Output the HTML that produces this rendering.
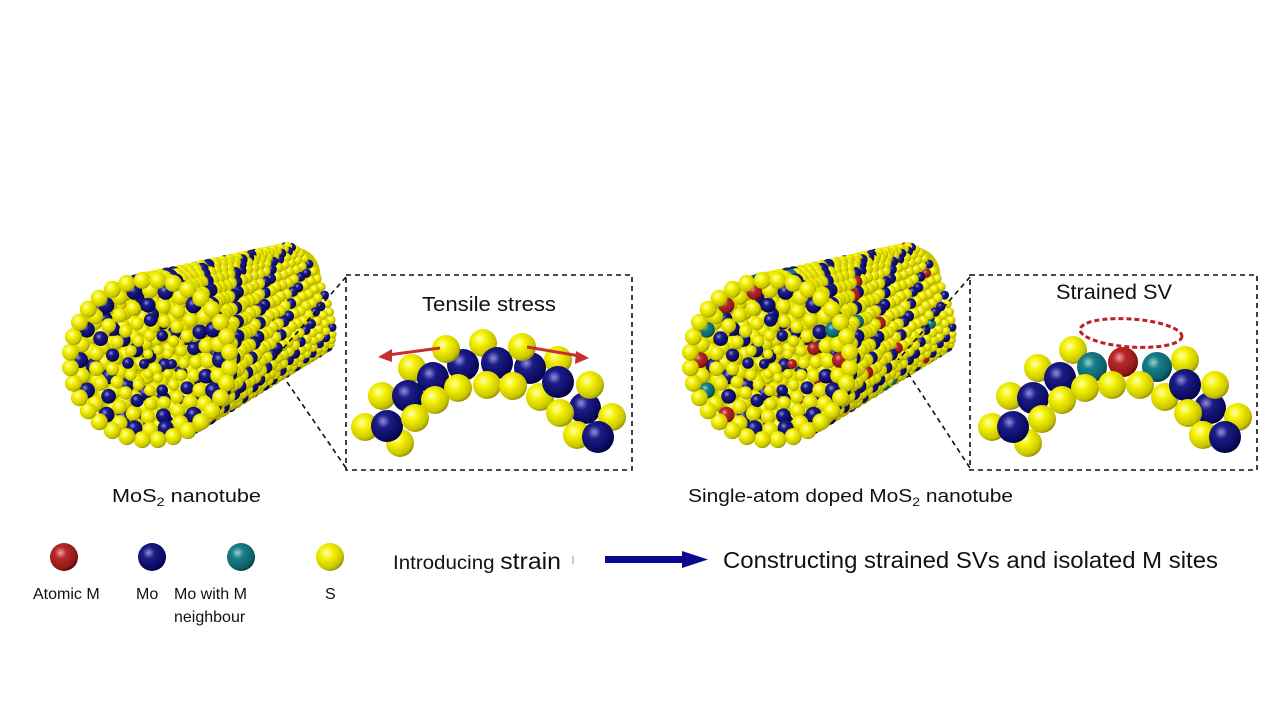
<!DOCTYPE html>
<html><head><meta charset="utf-8"><style>
html,body{margin:0;padding:0;background:#fff;width:1280px;height:720px;overflow:hidden}
svg{display:block}
text{font-family:"Liberation Sans",Arial,sans-serif;fill:#111}
</style></head><body>
<svg id="s" width="1280" height="720" viewBox="0 0 1280 720" xmlns="http://www.w3.org/2000/svg">
<defs>
<radialGradient id="gy" cx="0.38" cy="0.35" r="0.7"><stop offset="0" stop-color="#ffffb0"/><stop offset="0.35" stop-color="#f4f000"/><stop offset="0.8" stop-color="#c8c400"/><stop offset="1" stop-color="#8a8600"/></radialGradient>
<radialGradient id="gb" cx="0.38" cy="0.35" r="0.7"><stop offset="0" stop-color="#9090d8"/><stop offset="0.3" stop-color="#1c1c88"/><stop offset="0.8" stop-color="#0a0a60"/><stop offset="1" stop-color="#000030"/></radialGradient>
<radialGradient id="gr" cx="0.38" cy="0.35" r="0.7"><stop offset="0" stop-color="#f0a0a0"/><stop offset="0.3" stop-color="#b82828"/><stop offset="0.8" stop-color="#901818"/><stop offset="1" stop-color="#500000"/></radialGradient>
<radialGradient id="gt" cx="0.38" cy="0.35" r="0.7"><stop offset="0" stop-color="#a0d0d0"/><stop offset="0.3" stop-color="#18808a"/><stop offset="0.8" stop-color="#0c6068"/><stop offset="1" stop-color="#003038"/></radialGradient>
</defs>
<g id="t1"></g><g id="t2"></g>
<g id="ins"></g>
<g stroke="#111" stroke-width="1.6" stroke-dasharray="5,4" fill="none">
<rect x="346" y="275" width="286" height="195"/>
<line x1="346" y1="277" x2="273" y2="360"/>
<line x1="287" y1="382" x2="346" y2="468"/>
<rect x="970" y="275" width="287" height="195"/>
<line x1="970" y1="277" x2="898" y2="360"/>
<line x1="908" y1="373" x2="970" y2="468"/>
</g>
<text x="422" y="311" font-size="20" textLength="134" lengthAdjust="spacingAndGlyphs">Tensile stress</text>
<text x="1056" y="299" font-size="21" textLength="116" lengthAdjust="spacingAndGlyphs">Strained SV</text>
<ellipse cx="1131" cy="333" rx="51" ry="14" fill="none" stroke="#c02020" stroke-width="3" stroke-dasharray="5,3" transform="rotate(4 1131 333)"/>
<g stroke="#c83030" stroke-width="3" fill="#c83030">
<line x1="440" y1="348" x2="388" y2="355"/><polygon points="378,357 392,349 392,362" stroke="none"/>
<line x1="527" y1="347" x2="580" y2="356"/><polygon points="589,358 576,351 575,364" stroke="none"/>
</g>
<text x="112" y="502" font-size="18" textLength="149" lengthAdjust="spacingAndGlyphs">MoS<tspan font-size="12" dy="4">2</tspan><tspan dy="-4"> nanotube</tspan></text>
<text x="688" y="502" font-size="18" textLength="325" lengthAdjust="spacingAndGlyphs">Single-atom  doped  MoS<tspan font-size="12" dy="4">2</tspan><tspan dy="-4"> nanotube</tspan></text>
<g id="leg"></g>
<text x="33" y="599" font-size="16">Atomic M</text>
<text x="136" y="599" font-size="16">Mo</text>
<text x="174" y="599" font-size="16">Mo with M</text>
<text x="174" y="622" font-size="16">neighbour</text>
<text x="325" y="599" font-size="16">S</text>
<text x="393" y="569" font-size="19" textLength="168" lengthAdjust="spacingAndGlyphs">Introducing <tspan font-size="23">strain</tspan></text>
<line x1="573" y1="556" x2="573" y2="564" stroke="#999" stroke-width="1"/>
<rect x="605" y="556" width="78" height="7" fill="#0a0a90"/>
<polygon points="682,551 708,559.5 682,568" fill="#0a0a90"/>
<text x="723" y="568" font-size="23" textLength="495" lengthAdjust="spacingAndGlyphs">Constructing strained SVs and isolated M sites</text>
</svg>
<script>
var NS="http://www.w3.org/2000/svg";
var G={y:"url(#gy)",b:"url(#gb)",r:"url(#gr)",t:"url(#gt)"};
function at(g,x,y,r,c){var e=document.createElementNS(NS,"circle");e.setAttribute("cx",x.toFixed(1));e.setAttribute("cy",y.toFixed(1));e.setAttribute("r",r.toFixed(1));e.setAttribute("fill",G[c]);g.appendChild(e);}
var sd=7;function rnd(){sd=(sd*16807)%2147483647;return sd/2147483647;}
function tube(id,ox,doped){
 var g=document.getElementById(id);
 var p=document.createElementNS(NS,"path");
 p.setAttribute("d","M"+(ox+80)+",330 C"+(ox+100)+",285 "+(ox+200)+",262 "+(ox+270)+",250 C"+(ox+295)+",242 "+(ox+315)+",248 "+(ox+320)+",270 L"+(ox+325)+",345 C"+(ox+300)+",372 "+(ox+260)+",380 "+(ox+225)+",405 C"+(ox+200)+",435 "+(ox+150)+",440 "+(ox+115)+",425 C"+(ox+80)+",405 "+(ox+72)+",370 "+(ox+80)+",330Z");
 p.setAttribute("fill","#c8c400");g.appendChild(p);
 function col(c){if(!doped||c!="b")return c;var u=rnd();return u<0.1?"r":(u<0.2?"t":"b");}
 var bx=ox+305,by=298,fx=ox+150,fy=360,dx=fx-bx,dy=fy-by,L=Math.hypot(dx,dy),ax=dx/L,ay=dy/L,px=-ay,py=ax;
 var N=23;
 for(var k=0;k<N-1;k++){
  var t=k/(N-1),cx=bx+dx*t,cy=by+dy*t,R=55+25*t,f=0.35+0.5*t*t,ar=4.5+3.5*t;
  var n=Math.round(2*Math.PI*R/(ar*2));
  for(var j=0;j<n;j++){var th=2*Math.PI*j/n;
   var x=cx+R*Math.cos(th)*px+R*f*Math.sin(th)*ax,y=cy+R*Math.cos(th)*py+R*f*Math.sin(th)*ay;
   at(g,x,y,ar,col((j+k)%4==0?"b":"y"));}
 }
 var rs=[14,28,42,56];
 for(var i=0;i<rs.length;i++){var R=rs[i],cx=fx+8-i*2,cy=fy+4-i,ar=5+i*0.8,n=Math.max(5,Math.round(2*Math.PI*R/(ar*2.1)));
  for(var j=0;j<n;j++){var th=2*Math.PI*j/n;at(g,cx+R*Math.cos(th),cy+R*Math.sin(th),ar,col((j+i)%4==0?"b":"y"));}}
 var R=70,n=28;for(var j=0;j<n;j++){var th=2*Math.PI*j/n;at(g,fx+R*Math.cos(th),fy+R*Math.sin(th),8,col(j%2==0?"b":"y"));}
 R=80;n=32;for(var j=0;j<n;j++){var th=2*Math.PI*(j+0.5)/n;at(g,fx+R*Math.cos(th),fy+R*Math.sin(th),8.5,col("y"));}
}
tube("t1",0,false);tube("t2",620,true);
var ins=document.getElementById("ins");
var A=[[483,343,"y",14],[412,368,"y",14],[382,396,"y",14],[365,427,"y",14],[558,360,"y",14],
[463,365,"b",16],[497,363,"b",16],[530,368,"b",16],[408,396,"b",16],[585,408,"b",16],
[446,349,"y",14],[522,347,"y",14],[433,378,"b",16],[458,388,"y",14],[487,385,"y",14],[513,386,"y",14],[540,397,"y",14],
[558,382,"b",16],[590,385,"y",14],[435,400,"y",14],[400,443,"y",14],[387,426,"b",16],[415,418,"y",14],
[560,413,"y",14],[612,417,"y",14],[577,435,"y",14],[598,437,"b",16]];
A.forEach(function(a){at(ins,a[0],a[1],a[3],a[2]);});
var B=[[1038,368,"y",14],[1010,396,"y",14],[992,427,"y",14],[1185,360,"y",14],[1073,350,"y",14],
[1092,367,"t",15],[1157,367,"t",15],[1123,362,"r",15],[1033,398,"b",16],[1210,408,"b",16],
[1060,378,"b",16],[1085,388,"y",14],[1112,385,"y",14],[1140,385,"y",14],[1165,397,"y",14],[1185,385,"b",16],
[1215,385,"y",14],[1062,400,"y",14],[1028,443,"y",14],[1013,427,"b",16],[1042,419,"y",14],
[1188,413,"y",14],[1238,417,"y",14],[1203,435,"y",14],[1225,437,"b",16]];
B.forEach(function(a){at(ins,a[0],a[1],a[3],a[2]);});
var lg=document.getElementById("leg");
at(lg,64,557,14,"r");at(lg,152,557,14,"b");at(lg,241,557,14,"t");at(lg,330,557,14,"y");
</script>
</body></html>
